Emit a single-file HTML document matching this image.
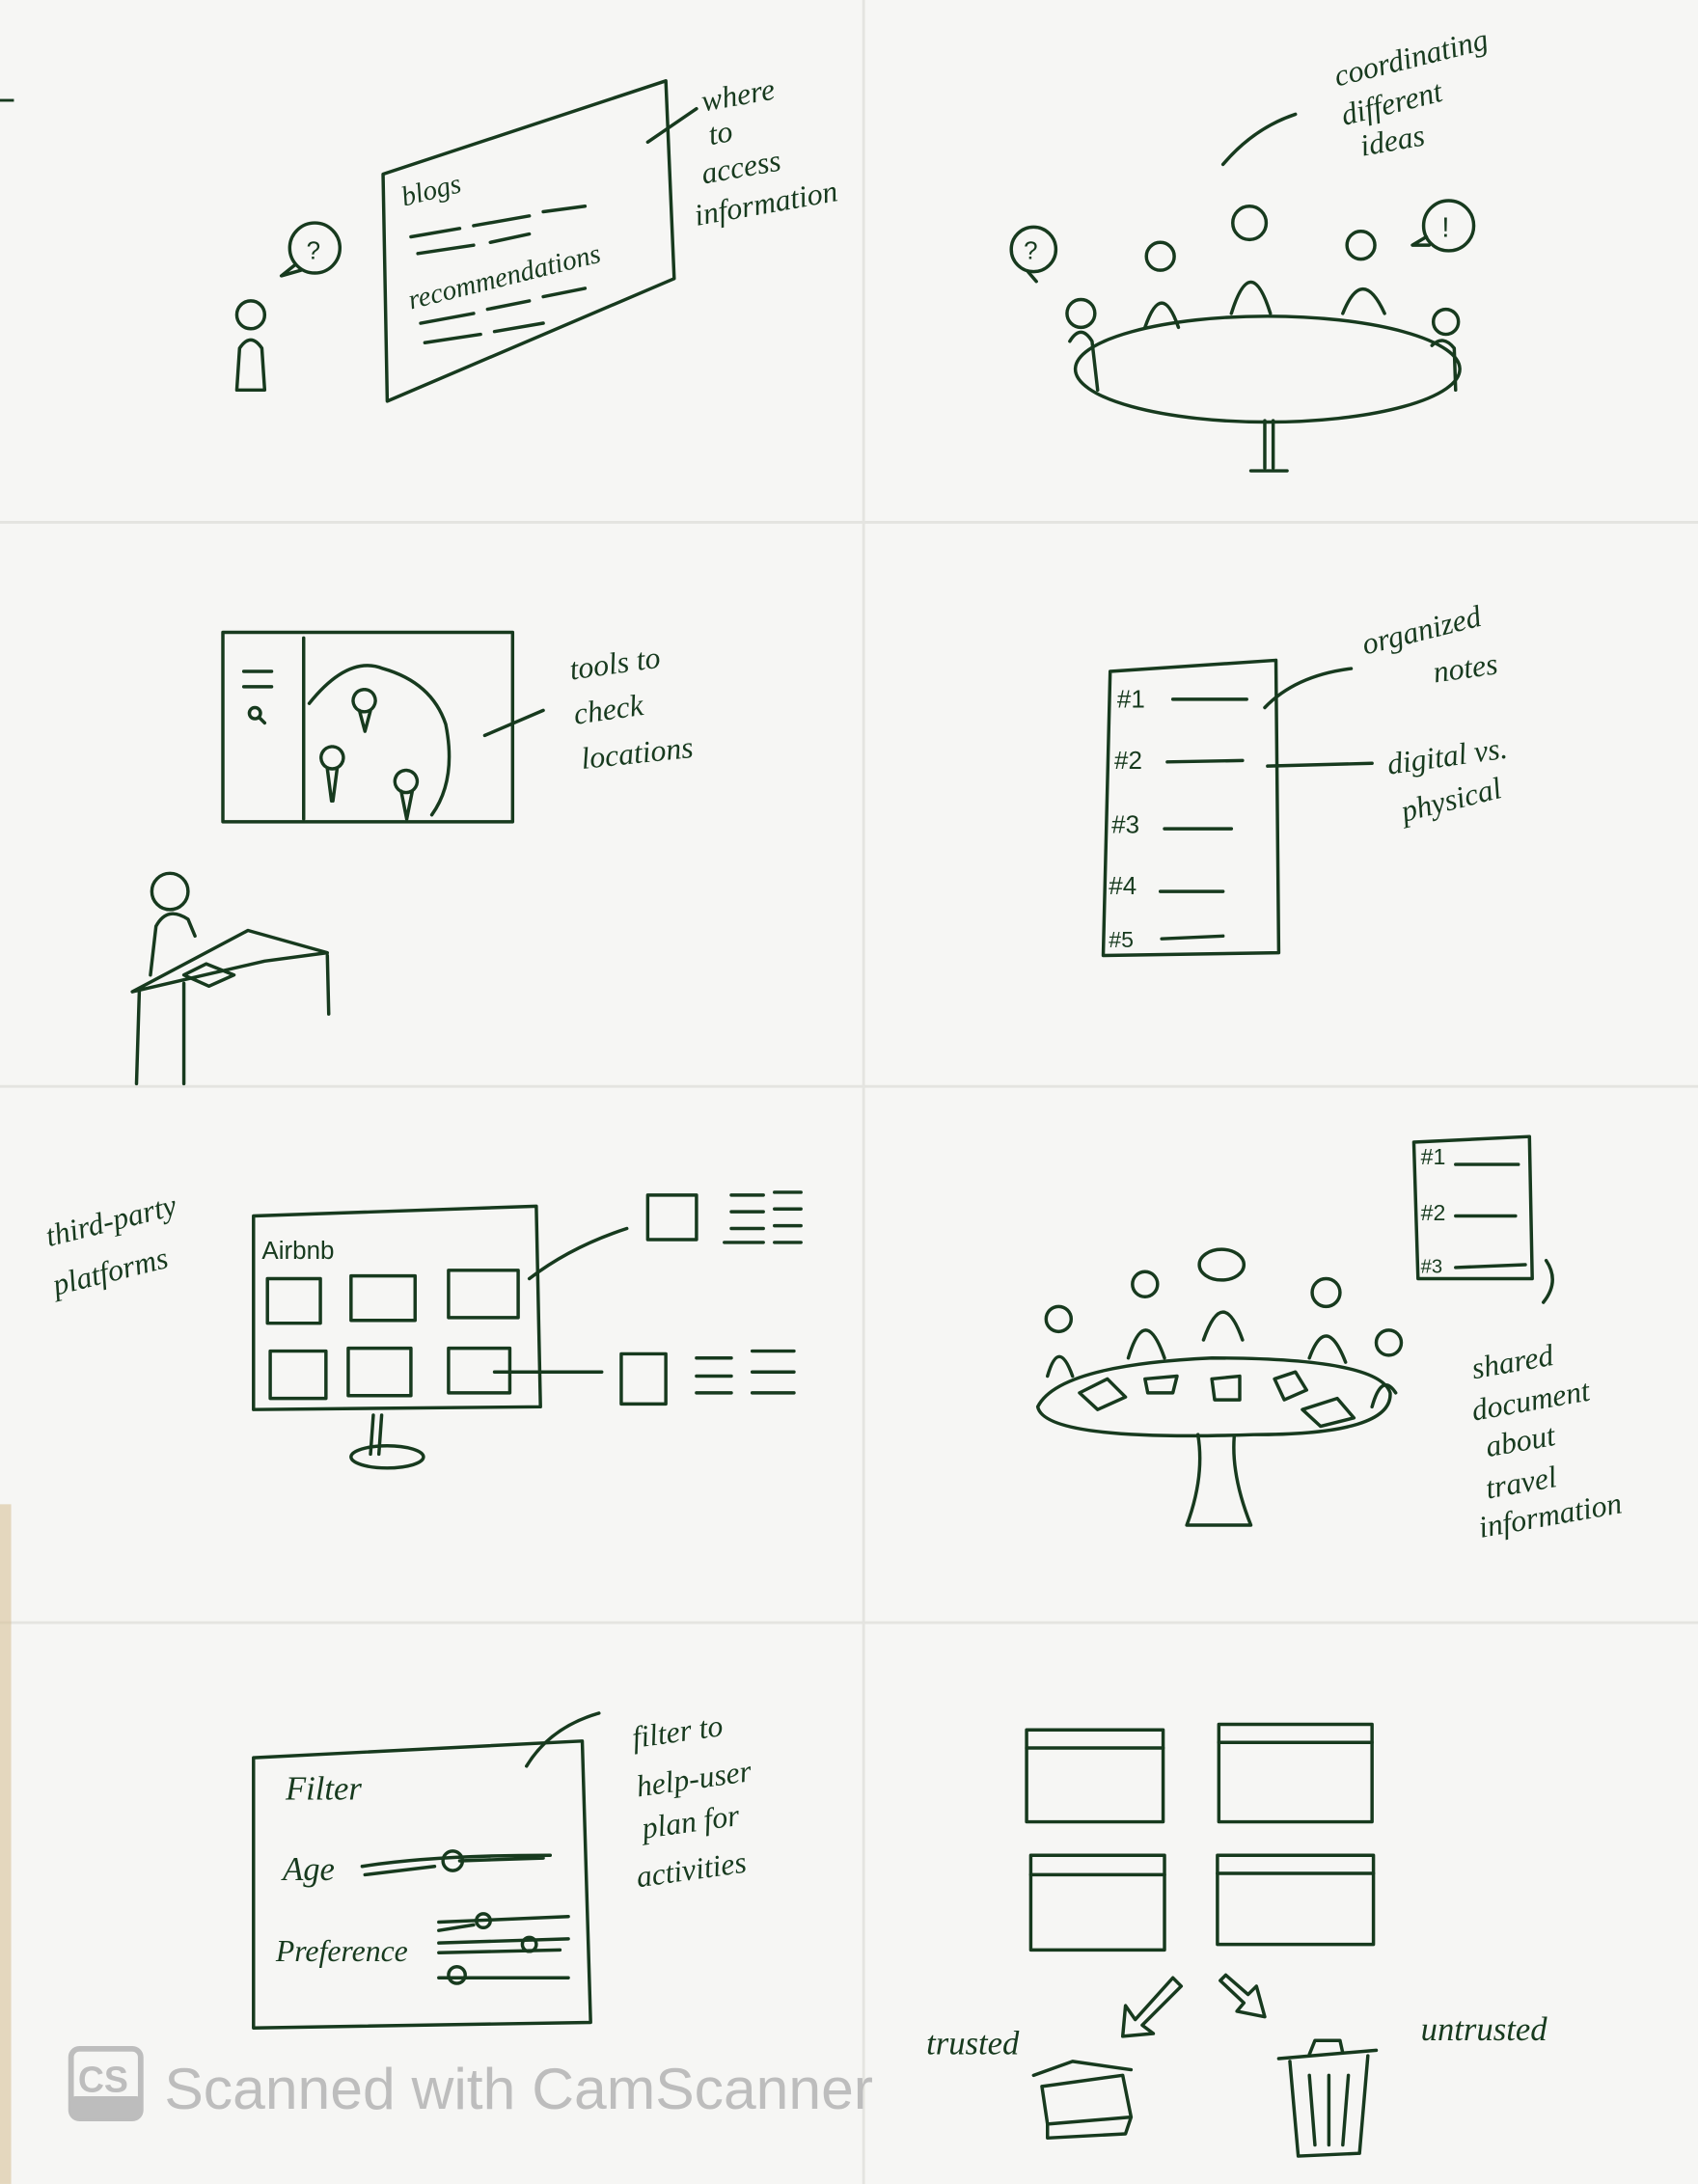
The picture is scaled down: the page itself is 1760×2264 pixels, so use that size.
<!DOCTYPE html>
<html><head><meta charset="utf-8"><style>
html,body{margin:0;padding:0;background:#f6f6f4;}
svg{display:block;}
.i{fill:none;stroke:#173a1e;stroke-width:2.4;stroke-linecap:round;stroke-linejoin:round;}
.t{font-family:"Liberation Serif",serif;font-style:italic;fill:#173a1e;}
.s{font-family:"Liberation Sans",sans-serif;fill:#173a1e;}
</style></head><body>
<svg width="1760" height="2264" viewBox="0 0 1219 1568" xmlns="http://www.w3.org/2000/svg">
<rect width="1219" height="1568" fill="#f6f6f4"/>
<!-- fold lines -->
<g stroke="#e4e4e0" stroke-width="2" fill="none">
<line x1="0" y1="375" x2="1219" y2="375"/><line x1="0" y1="780" x2="1219" y2="780"/><line x1="0" y1="1165" x2="1219" y2="1165"/>
<line x1="620" y1="0" x2="620" y2="1568"/></g>
<rect x="0" y="1080" width="8" height="488" fill="#d9c39a" opacity="0.6"/>
<line x1="0" y1="72" x2="10" y2="72" stroke="#173a1e" stroke-width="2"/>

<!-- Panel 1 -->
<g class="i">
<circle cx="180" cy="226" r="10"/><path d="M172 250 Q180 238 188 250 L190 280 L170 280 Z"/>
<circle cx="226" cy="178" r="18"/><path d="M212 190 L202 198 L216 194"/>
<path d="M275 125 L478 58 L484 200 L278 288 Z"/>
<path d="M295 170 L330 164 M340 162 L380 155 M390 152 L420 148 M300 182 L340 176 M352 174 L380 168"/>
<path d="M302 232 L340 225 M350 222 L380 216 M390 213 L420 207 M305 246 L345 240 M355 238 L390 232"/>
<path d="M465 102 L500 78"/>
</g>
<text class="t" x="290" y="148" font-size="20" transform="rotate(-14 290 148)">blogs</text>
<text class="t" x="295" y="222" font-size="20" transform="rotate(-14 295 222)">recommendations</text>
<text class="s" x="220" y="186" font-size="18">?</text>
<text class="t" x="505" y="80" font-size="22" transform="rotate(-10 505 80)">where</text>
<text class="t" x="510" y="104" font-size="22" transform="rotate(-10 510 104)">to</text>
<text class="t" x="505" y="132" font-size="22" transform="rotate(-10 505 132)">access</text>
<text class="t" x="500" y="162" font-size="22" transform="rotate(-10 500 162)">information</text>

<!-- Panel 2 -->
<g class="i">
<ellipse cx="910" cy="265" rx="138" ry="38"/>
<path d="M908 302 L908 336 M914 302 L914 336 M898 338 L924 338"/>
<circle cx="776" cy="225" r="10"/><path d="M768 245 Q776 232 784 245 L788 280"/>
<circle cx="833" cy="184" r="10"/><path d="M822 235 Q834 200 846 235"/>
<circle cx="897" cy="160" r="12"/><path d="M884 225 Q898 180 912 225"/>
<circle cx="977" cy="176" r="10"/><path d="M964 225 Q978 190 994 225"/>
<circle cx="1038" cy="231" r="9"/><path d="M1028 248 Q1036 240 1044 250 L1045 280"/>
<circle cx="742" cy="179" r="16"/><path d="M738 195 L744 202"/>
<circle cx="1040" cy="162" r="18"/><path d="M1024 170 L1014 176 L1026 176"/>
<path d="M878 118 Q900 92 930 82"/>
</g>
<text class="s" x="735" y="186" font-size="18">?</text>
<text class="s" x="1035" y="170" font-size="20">!</text>
<text class="t" x="960" y="62" font-size="22" transform="rotate(-14 960 62)">coordinating</text>
<text class="t" x="965" y="90" font-size="22" transform="rotate(-14 965 90)">different</text>
<text class="t" x="978" y="112" font-size="22" transform="rotate(-10 978 112)">ideas</text>

<!-- Panel 3 -->
<g class="i">
<rect x="160" y="454" width="208" height="136"/>
<line x1="218" y1="458" x2="218" y2="588"/>
<path d="M175 482 L195 482 M175 493 L195 493"/><circle cx="183" cy="512" r="4"/><path d="M186 515 L190 519"/>
<path d="M222 505 Q250 470 275 480 Q310 490 320 520 Q328 560 310 585"/>
<path d="M262 495 a8 8 0 1 1 -1 0 M258 510 L262 525 M262 525 L266 510"/>
<path d="M239 536 a8 8 0 1 1 -1 0 M235 552 L238 575 M239 575 L242 552"/>
<path d="M292 553 a8 8 0 1 1 -1 0 M288 568 L292 588 M292 588 L296 568"/>
<path d="M348 528 L390 510"/>
<circle cx="122" cy="640" r="13"/>
<path d="M112 665 Q120 650 135 660 L140 672 M112 665 L108 700"/>
<path d="M95 712 L190 690 L235 684 L178 668 L95 712"/>
<path d="M100 712 L98 778 M132 706 L132 778 M235 686 L236 728"/>
<path d="M132 700 L148 692 L168 700 L150 708 Z"/>
</g>
<text class="t" x="410" y="488" font-size="22" transform="rotate(-8 410 488)">tools to</text>
<text class="t" x="413" y="520" font-size="22" transform="rotate(-8 413 520)">check</text>
<text class="t" x="418" y="552" font-size="22" transform="rotate(-6 418 552)">locations</text>

<!-- Panel 4 -->
<g class="i">
<path d="M797 482 L916 474 L918 684 L792 686 Z"/>
<path d="M842 502 L895 502 M838 547 L892 546 M836 595 L884 595 M833 640 L878 640 M834 674 L878 672"/>
<path d="M908 508 Q930 485 970 480 M910 550 L985 548"/>
</g>
<text class="s" x="802" y="508" font-size="18">#1</text>
<text class="s" x="800" y="552" font-size="18">#2</text>
<text class="s" x="798" y="598" font-size="18">#3</text>
<text class="s" x="796" y="642" font-size="18">#4</text>
<text class="s" x="796" y="680" font-size="16">#5</text>
<text class="t" x="980" y="470" font-size="22" transform="rotate(-14 980 470)">organized</text>
<text class="t" x="1030" y="490" font-size="22" transform="rotate(-8 1030 490)">notes</text>
<text class="t" x="997" y="556" font-size="22" transform="rotate(-8 997 556)">digital vs.</text>
<text class="t" x="1008" y="590" font-size="22" transform="rotate(-14 1008 590)">physical</text>

<!-- Panel 5 -->
<g class="i">
<path d="M182 873 L385 866 L388 1010 L182 1012 Z"/>
<rect x="192" y="918" width="38" height="32"/><rect x="252" y="916" width="46" height="32"/><rect x="322" y="912" width="50" height="34"/>
<rect x="194" y="970" width="40" height="34"/><rect x="250" y="968" width="45" height="34"/><rect x="322" y="968" width="44" height="32"/>
<path d="M268 1016 L266 1044 M274 1016 L272 1044"/><ellipse cx="278" cy="1046" rx="26" ry="8"/>
<path d="M380 918 Q410 895 450 882 M355 985 L432 985"/>
<rect x="465" y="858" width="35" height="32"/>
<path d="M525 858 L548 858 M525 870 L548 870 M525 882 L548 882 M556 856 L575 856 M556 868 L575 868 M556 880 L575 880 M556 892 L575 892 M520 892 L548 892"/>
<rect x="446" y="972" width="32" height="36"/>
<path d="M500 975 L525 975 M500 988 L525 988 M500 1000 L525 1000 M540 970 L570 970 M540 985 L570 985 M540 1000 L570 1000"/>
</g>
<text class="s" x="188" y="904" font-size="18">Airbnb</text>
<text class="t" x="35" y="895" font-size="22" transform="rotate(-14 35 895)">third-party</text>
<text class="t" x="40" y="930" font-size="22" transform="rotate(-14 40 930)">platforms</text>

<!-- Panel 6 -->
<g class="i">
<path d="M1015 820 L1098 816 L1100 918 L1018 918 Z"/>
<path d="M1045 836 L1090 836 M1045 873 L1088 873 M1045 910 L1095 908 M1110 905 Q1120 920 1108 935"/>
<path d="M745 1010 Q760 980 870 975 Q990 975 998 1000 Q1000 1030 900 1030 Q750 1035 745 1010 Z"/>
<path d="M860 1030 Q865 1060 852 1095 L898 1095 Q884 1060 886 1032"/>
<circle cx="760" cy="947" r="9"/><path d="M752 988 Q760 960 770 988"/>
<circle cx="822" cy="922" r="9"/><path d="M810 975 Q822 935 836 975"/>
<ellipse cx="877" cy="908" rx="16" ry="11"/><path d="M864 962 Q878 922 892 962"/>
<circle cx="952" cy="928" r="10"/><path d="M940 975 Q952 942 966 978"/>
<circle cx="997" cy="964" r="9"/><path d="M985 1010 Q992 985 1002 1000"/>
<path d="M775 1000 L795 990 L808 1003 L788 1012 Z M822 990 L845 988 L842 1000 L824 1000 Z M870 990 L890 988 L890 1005 L872 1005 Z M915 990 L930 985 L938 998 L922 1005 Z M935 1012 L960 1004 L972 1018 L948 1024 Z"/>
</g>
<text class="s" x="1020" y="836" font-size="16">#1</text>
<text class="s" x="1020" y="876" font-size="16">#2</text>
<text class="s" x="1020" y="914" font-size="14">#3</text>
<text class="t" x="1058" y="990" font-size="22" transform="rotate(-10 1058 990)">shared</text>
<text class="t" x="1058" y="1020" font-size="22" transform="rotate(-10 1058 1020)">document</text>
<text class="t" x="1068" y="1046" font-size="22" transform="rotate(-10 1068 1046)">about</text>
<text class="t" x="1068" y="1076" font-size="22" transform="rotate(-10 1068 1076)">travel</text>
<text class="t" x="1063" y="1104" font-size="22" transform="rotate(-10 1063 1104)">information</text>

<!-- Panel 7 -->
<g class="i">
<path d="M182 1262 L418 1250 L424 1452 L182 1456 Z"/>
<path d="M260 1340 Q310 1332 395 1332 M262 1346 L312 1340 M330 1336 L390 1334"/><circle cx="325" cy="1336" r="7"/>
<path d="M315 1380 L408 1376 M315 1386 L340 1382 M315 1395 L408 1392 M315 1402 L402 1400 M315 1420 L408 1420"/>
<circle cx="347" cy="1379" r="5"/><circle cx="380" cy="1396" r="5"/><circle cx="328" cy="1418" r="6"/>
<path d="M378 1268 Q395 1240 430 1230"/>
</g>
<text class="t" x="205" y="1292" font-size="24" font-style="normal">Filter</text>
<text class="t" x="203" y="1350" font-size="24" font-style="normal">Age</text>
<text class="t" x="198" y="1408" font-size="22" font-style="normal">Preference</text>
<text class="t" x="455" y="1255" font-size="22" transform="rotate(-8 455 1255)">filter to</text>
<text class="t" x="458" y="1290" font-size="22" transform="rotate(-8 458 1290)">help-user</text>
<text class="t" x="462" y="1320" font-size="22" transform="rotate(-8 462 1320)">plan for</text>
<text class="t" x="458" y="1355" font-size="22" transform="rotate(-8 458 1355)">activities</text>

<!-- Panel 8 -->
<g class="i">
<rect x="737" y="1242" width="98" height="66"/><path d="M737 1255 L835 1255"/>
<rect x="875" y="1238" width="110" height="70"/><path d="M875 1251 L985 1251"/>
<rect x="740" y="1332" width="96" height="68"/><path d="M740 1346 L836 1346"/>
<rect x="874" y="1332" width="112" height="64"/><path d="M874 1345 L986 1345"/>
<path d="M842 1420 L815 1450 L808 1440 L806 1462 L828 1460 L820 1454 L848 1426 Z"/>
<path d="M880 1418 L896 1432 L902 1426 L908 1448 L888 1444 L893 1438 L876 1422 Z"/>
<path d="M748 1498 L806 1490 L812 1520 L752 1525 Z M742 1490 L770 1480 L812 1486 M752 1525 L752 1535 L808 1532 L812 1520"/>
<path d="M918 1478 L988 1472 M940 1475 L944 1465 L962 1465 L964 1474 M926 1480 L932 1548 L976 1546 L982 1476 M940 1490 L944 1540 M954 1490 L954 1540 M968 1490 L964 1540"/>
</g>
<text class="t" x="665" y="1475" font-size="24" font-style="normal">trusted</text>
<text class="t" x="1020" y="1465" font-size="24" font-style="normal">untrusted</text>

<!-- watermark -->
<rect x="51" y="1471" width="50" height="50" rx="6" fill="none" stroke="#bdbdbd" stroke-width="4"/>
<rect x="51" y="1505" width="50" height="16" rx="3" fill="#bdbdbd"/>
<text x="56" y="1502" font-family="Liberation Sans,sans-serif" font-size="26" font-weight="bold" fill="#bdbdbd">CS</text>
<text x="118" y="1514" font-family="Liberation Sans,sans-serif" font-size="42" fill="#bdbdbd">Scanned with CamScanner</text>
</svg>
</body></html>
